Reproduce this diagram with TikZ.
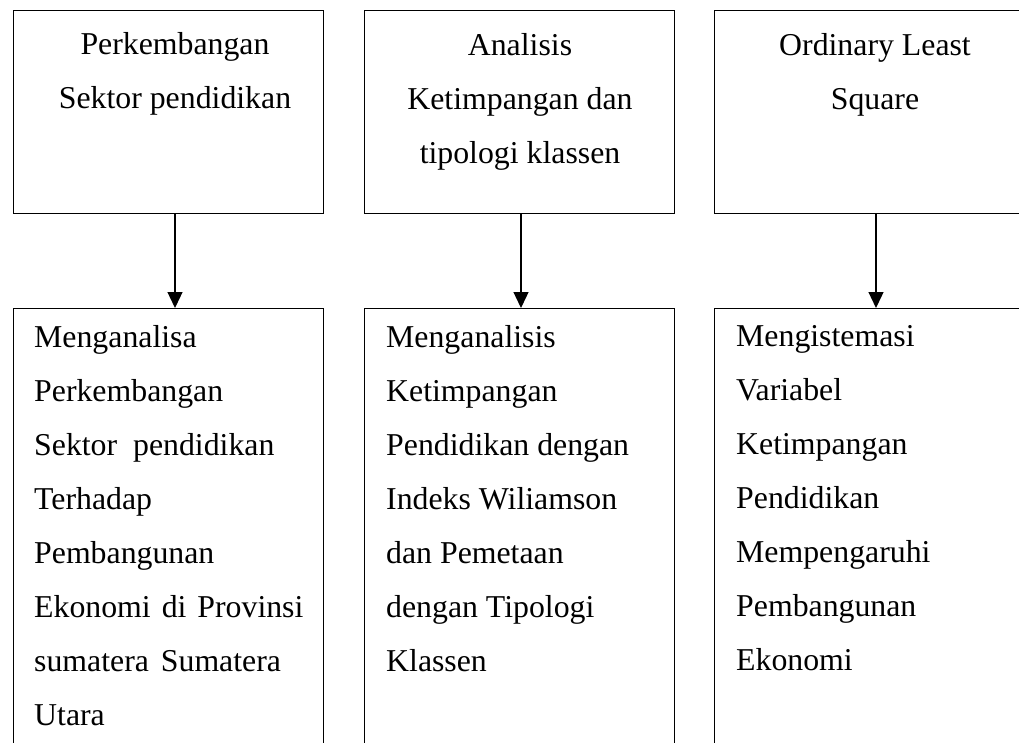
\documentclass[tikz,border=0pt]{standalone}
\usepackage{fontspec}
\setmainfont{Liberation Serif}
\usetikzlibrary{arrows.meta}
\begin{document}
\begin{tikzpicture}[x=1pt,y=-1pt,
  box/.style={draw, line width=1.3pt, anchor=north west, inner sep=0pt, minimum width=310pt},
  topbox/.style={box, minimum height=203pt},
  botbox/.style={box, minimum height=500pt},
  toptext/.style={anchor=north, align=center, inner sep=0pt, font={\fontsize{31.8}{54}\selectfont}},
  bottext/.style={anchor=north west, align=left, inner sep=0pt, font={\fontsize{31.8}{54}\selectfont}},
  arr/.style={line width=1.3pt, -{Triangle[length=16pt,width=15pt]}}]
\useasboundingbox (0,0) rectangle (1019,742);
\clip (0,0) rectangle (1019,742);
\fill[white] (0,0) rectangle (1019,742);
% top boxes
\node[topbox] (t1) at (13,10) {};
\node[topbox] (t2) at (364,10) {};
\node[topbox] (t3) at (714,10) {};
% bottom boxes
\node[botbox] (b1) at (13,308) {};
\node[botbox] (b2) at (364,308) {};
\node[botbox] (b3) at (714,308) {};
% arrow columns
\coordinate (c1) at (175,0);
\coordinate (c2) at (521,0);
\coordinate (c3) at (876,0);
% top texts
\node[toptext] (tt1) at (175,32) {Perkembangan\\Sektor pendidikan};
\node[toptext] (tt2) at (520,33) {Analisis\\Ketimpangan dan\\tipologi klassen};
\node[toptext] (tt3) at (875,33) {Ordinary Least\\Square};
% bottom texts
\node[bottext] (bt1) at (34,325) {Menganalisa\\Perkembangan\\Sektor\ \ pendidikan\\Terhadap\\Pembangunan\\Ekonomi\hspace{3pt} di\hspace{3pt} Provinsi\\sumatera\hspace{4pt} Sumatera\\Utara};
\node[bottext] (bt2) at (386,325) {Menganalisis\\Ketimpangan\\Pendidikan dengan\\Indeks Wiliamson\\dan Pemetaan\\dengan Tipologi\\Klassen};
\node[bottext] (bt3) at (736,325) {Mengistemasi\\Variabel\\Ketimpangan\\Pendidikan\\Mempengaruhi\\Pembangunan\\Ekonomi};
% arrows
\draw[arr] (t1.south -| c1) -- (b1.north -| c1);
\draw[arr] (t2.south -| c2) -- (b2.north -| c2);
\draw[arr] (t3.south -| c3) -- (b3.north -| c3);
\end{tikzpicture}
\end{document}
